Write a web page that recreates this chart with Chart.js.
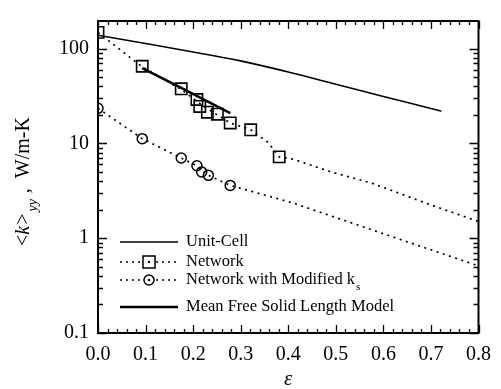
<!DOCTYPE html>
<html>
<head>
<meta charset="utf-8">
<script src="https://cdn.jsdelivr.net/npm/chart.js@4"></script>
<style>
  html, body { margin: 0; padding: 0; background: #fff; }
  #wrap { width: 501px; height: 389px; }
</style>
</head>
<body>
<div id="wrap"><canvas id="grafico" width="501" height="389"></canvas></div>
<script>
// valors llegits de la figura
const xTicks = [0, 0.1, 0.2, 0.3, 0.4, 0.5, 0.6, 0.7, 0.8];
const yTicks = [0.1, 1, 10, 100];

const cellEps = [0, 0.1, 0.2, 0.3, 0.4, 0.5, 0.6, 0.7, 0.722];
const cellK = [138, 113, 92, 74, 56.5, 42, 31.2, 23.3, 21.8];

const netEps = [0, 0.093, 0.175, 0.208, 0.214, 0.230, 0.251, 0.278, 0.321, 0.381];
const netK = [148, 65, 37.6, 29.0, 24.5, 21.3, 20.3, 16.4, 13.9, 7.2];
const netFitEps = [0, 0.093, 0.175, 0.22, 0.278, 0.321, 0.358, 0.381, 0.41, 0.49, 0.576, 0.7, 0.8];
const netFitK = [148, 64, 37, 25, 16.4, 13.9, 10.2, 7.2, 6.8, 5.0, 3.8, 2.24, 1.5];

const modEps = [0, 0.093, 0.175, 0.208, 0.218, 0.232, 0.278];
const modK = [23.4, 11.2, 7.0, 5.8, 5.0, 4.6, 3.6];
const modFitEps = [0, 0.093, 0.175, 0.208, 0.232, 0.278, 0.41, 0.62, 0.8];
const modFitK = [23.4, 11.2, 7.0, 5.8, 4.6, 3.6, 2.35, 1.03, 0.51];

const mfslEps = [0.093, 0.175, 0.278];
const mfslK = [62, 38.5, 20.8];

const legendLabels = ['Unit-Cell', 'Network', 'Network with Modified k', 'Mean Free Solid Length Model'];

const serif = "'Liberation Serif', 'DejaVu Serif', serif";

function pts(xs, ys) {
    return xs.map((x, i) => ({ x: x, y: ys[i] }));
}

// marques de les escales cap endins + marc
const marcPlugin = {
    id: 'marc',
    afterDraw(chart) {
        let ctx = chart.ctx;
        let a = chart.chartArea;
        let x = chart.scales.x, y = chart.scales.y;
        ctx.save();
        ctx.setLineDash([]);
        ctx.strokeStyle = '#000';
        ctx.lineWidth = 2;
        ctx.strokeRect(a.left, a.top, a.right - a.left, a.bottom - a.top);
        ctx.lineWidth = 1.3;
        ctx.beginPath();
        for (let i = 0; i <= 40; i++) {
            let v = i * 0.02;
            let px = Math.round(x.getPixelForValue(v)) + 0.5;
            let len = (i % 5 === 0) ? 8 : 4;
            ctx.moveTo(px, a.bottom);
            ctx.lineTo(px, a.bottom - len);
            ctx.moveTo(px, a.top);
            ctx.lineTo(px, a.top + len);
        }
        let decades = [0.1, 1, 10, 100];
        decades.forEach(d => {
            for (let m = 1; m <= 9; m++) {
                let v = d * m;
                if (v > y.max) continue;
                let py = Math.round(y.getPixelForValue(v)) + 0.5;
                let len = (m === 1) ? 9 : 5;
                ctx.moveTo(a.left, py);
                ctx.lineTo(a.left + len, py);
                ctx.moveTo(a.right, py);
                ctx.lineTo(a.right - len, py);
            }
        });
        ctx.stroke();

        // titol eix y
        ctx.fillStyle = '#000';
        ctx.translate(29, 246);
        ctx.rotate(-Math.PI / 2);
        ctx.textBaseline = 'alphabetic';
        ctx.font = '20px ' + serif;
        let cx = 0;
        ctx.fillText('<', cx, 0); cx += ctx.measureText('<').width;
        ctx.font = 'italic 20px ' + serif;
        ctx.fillText('k', cx, 0); cx += ctx.measureText('k').width + 1;
        ctx.font = '20px ' + serif;
        ctx.fillText('>', cx, 0); cx += ctx.measureText('>').width + 2;
        ctx.font = 'italic 14px ' + serif;
        ctx.fillText('yy', cx, 8); cx += ctx.measureText('yy').width + 6;
        ctx.font = '20px ' + serif;
        ctx.fillText(',  W/m-K', cx, 0);
        ctx.restore();

        // titol eix x
        ctx.save();
        ctx.fillStyle = '#000';
        ctx.font = 'italic 21px ' + serif;
        ctx.textAlign = 'center';
        ctx.textBaseline = 'alphabetic';
        ctx.fillText('\u03b5', (a.left + a.right) / 2, 385);
        ctx.restore();
    }
};

// llegenda dibuixada a ma
const llegendaPlugin = {
    id: 'llegenda',
    afterDraw(chart) {
        let ctx = chart.ctx;
        let x0 = 120, x1 = 178, xt = 186;
        let rows = [242, 262, 280, 307];
        ctx.save();
        ctx.strokeStyle = '#000';
        ctx.fillStyle = '#000';
        ctx.font = '16.5px ' + serif;
        ctx.textBaseline = 'middle';

        // Unit-Cell
        ctx.lineWidth = 1.5;
        ctx.setLineDash([]);
        ctx.beginPath(); ctx.moveTo(x0, rows[0]); ctx.lineTo(x1, rows[0]); ctx.stroke();
        // Network
        ctx.lineWidth = 1.6;
        ctx.setLineDash([2, 4]);
        ctx.beginPath(); ctx.moveTo(x0, rows[1]); ctx.lineTo(x1, rows[1]); ctx.stroke();
        ctx.beginPath(); ctx.moveTo(x0, rows[2]); ctx.lineTo(x1, rows[2]); ctx.stroke();
        ctx.setLineDash([]);
        ctx.fillStyle = '#fff';
        ctx.fillRect(143, rows[1] - 6, 12, 12);
        ctx.lineWidth = 1.5;
        ctx.strokeRect(143, rows[1] - 6, 12, 12);
        ctx.beginPath(); ctx.arc(149, rows[2], 5, 0, Math.PI * 2); ctx.fill(); ctx.stroke();
        ctx.fillStyle = '#000';
        ctx.beginPath(); ctx.arc(149, rows[2], 1.3, 0, Math.PI * 2); ctx.fill();
        ctx.fillRect(148, rows[1] - 1, 2, 2);
        // Mean free
        ctx.lineWidth = 2.5;
        ctx.beginPath(); ctx.moveTo(x0, rows[3]); ctx.lineTo(x1, rows[3]); ctx.stroke();

        ctx.fillText(legendLabels[0], xt, rows[0]);
        ctx.fillText(legendLabels[1], xt, rows[1]);
        ctx.fillText(legendLabels[2], xt, rows[2]);
        let w = ctx.measureText(legendLabels[2]).width;
        ctx.font = '11px ' + serif;
        ctx.fillText('s', xt + w + 1, rows[2] + 7);
        ctx.font = '16.5px ' + serif;
        ctx.fillText(legendLabels[3], xt, rows[3]);
        ctx.restore();
    }
};

let config = {
    type: 'scatter',
    data: {
        datasets: [
            {
                label: 'Unit-Cell',
                data: pts(cellEps, cellK),
                showLine: true,
                borderColor: '#000',
                borderWidth: 1.6,
                cubicInterpolationMode: 'monotone',
                pointRadius: 0
            },
            {
                label: 'Network fit',
                data: pts(netFitEps, netFitK),
                showLine: true,
                borderColor: '#000',
                borderWidth: 1.7,
                borderDash: [2, 4.5],
                pointRadius: 0
            },
            {
                label: 'Modified fit',
                data: pts(modFitEps, modFitK),
                showLine: true,
                borderColor: '#000',
                borderWidth: 1.7,
                borderDash: [2, 4.5],
                pointRadius: 0
            },
            {
                label: 'Mean Free Solid Length Model',
                data: pts(mfslEps, mfslK),
                showLine: true,
                borderColor: '#000',
                borderWidth: 2.6,
                pointRadius: 0
            },
            {
                label: 'Network',
                data: pts(netEps, netK),
                showLine: false,
                pointStyle: 'rect',
                pointRadius: 8,
                pointBorderWidth: 1.6,
                pointBorderColor: '#000',
                pointBackgroundColor: 'rgba(255,255,255,0)'
            },
            {
                label: 'Network with Modified ks',
                data: pts(modEps, modK),
                showLine: false,
                pointStyle: 'circle',
                pointRadius: 5,
                pointBorderWidth: 1.5,
                pointBorderColor: '#000',
                pointBackgroundColor: 'rgba(255,255,255,0)'
            }
        ]
    },
    options: {
        responsive: false,
        animation: false,
        events: [],
        layout: { padding: { top: 13, right: 14, left: 0, bottom: 0 } },
        plugins: {
            legend: { display: false },
            tooltip: { enabled: false }
        },
        scales: {
            x: {
                type: 'linear',
                min: 0,
                max: 0.8,
                afterFit: s => { s.height = 56; },
                afterBuildTicks: s => { s.ticks = xTicks.map(v => ({ value: v })); },
                grid: { display: false, drawTicks: false },
                border: { display: false },
                ticks: {
                    color: '#000',
                    padding: 10,
                    maxRotation: 0,
                    font: { family: serif, size: 20 },
                    callback: v => v.toFixed(1)
                }
            },
            y: {
                type: 'logarithmic',
                min: 0.1,
                max: 195,
                afterFit: s => { s.width = 98; },
                afterBuildTicks: s => { s.ticks = yTicks.map(v => ({ value: v })); },
                grid: { display: false, drawTicks: false },
                border: { display: false },
                ticks: {
                    color: '#000',
                    padding: 9,
                    font: { family: serif, size: 20 },
                    callback: v => String(v)
                }
            }
        }
    },
    plugins: [marcPlugin, llegendaPlugin]
};

let grafico = new Chart(document.getElementById('grafico').getContext('2d'), config);
</script>
</body>
</html>
